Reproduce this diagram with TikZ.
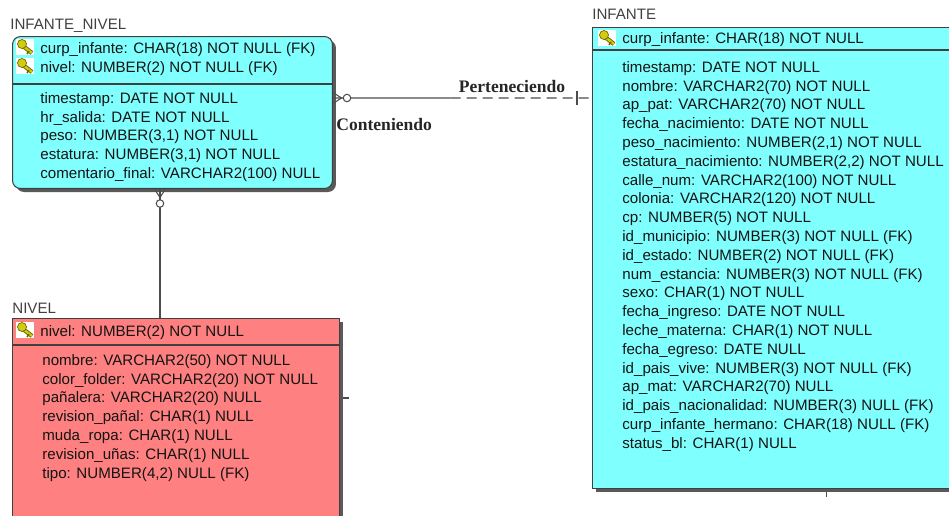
\documentclass[tikz,border=0pt]{standalone}
\usepackage{fontspec}
\setmainfont{Liberation Sans}
\newfontfamily\relfont{Liberation Serif}
\usetikzlibrary{shadows,calc}
\definecolor{entcyan}{HTML}{80FFFF}
\definecolor{entred}{HTML}{FF8080}
\definecolor{keygold}{HTML}{D2CC10}
\definecolor{keyedge}{HTML}{6E6A00}
\definecolor{txtgray}{HTML}{141414}

\tikzset{
  entity/.style={draw=black!75, line width=0.6pt, anchor=north west, inner sep=0pt,
    drop shadow={shadow xshift=0.07cm, shadow yshift=-0.07cm, fill=black!65, opacity=1}},
  attr/.style={anchor=north west, align=left, inner sep=0pt, text=txtgray,
    font=\fontsize{8.6}{10.7}\selectfont},
  title/.style={anchor=west, inner sep=0pt, text=black!75, font=\fontsize{8.6}{10}\selectfont},
  rellabel/.style={inner sep=0pt, text=black!85, font=\relfont\bfseries\fontsize{10}{12}\selectfont},
  rel/.style={draw=black!70, line width=0.6pt},
  keyicon/.pic={
    \fill[white] (-9,-8) rectangle (9,8);
    \draw[keyedge, line width=2.4pt] (-2,-1) -- (7,6);
    \draw[keygold, line width=1.3pt] (-2,-1) -- (7,6);
    \draw[keyedge, line width=0.9pt] (4,4) -- (2,7);
    \draw[keyedge, fill=keygold, line width=0.4pt] (-3,-3) circle (4.5);
  }
}

\begin{document}
\begin{tikzpicture}[x=0.02cm, y=-0.02cm]
\useasboundingbox (0,0) rectangle (949,515);

% INFANTE_NIVEL
\node[title] (tInfNiv) at (10,26) {INFANTE\_NIVEL};
\node[entity, fill=entcyan, rounded corners=0.16cm, minimum width=6.4cm, minimum height=3.04cm] (infniv) at (12,36) {};
\draw[black!75, line width=0.6pt] ([yshift=-0.96cm]infniv.north west) -- ([yshift=-0.96cm]infniv.north east);
\pic at (25,47) {keyicon};
\pic at (25,66) {keyicon};
\node[attr] (kInfNiv) at (40,42) {curp\_infante: CHAR(18) NOT NULL (FK)\\
nivel: NUMBER(2) NOT NULL (FK)};
\node[attr] (aInfNiv) at (40,92) {timestamp: DATE NOT NULL\\
hr\_salida: DATE NOT NULL\\
peso: NUMBER(3,1) NOT NULL\\
estatura: NUMBER(3,1) NOT NULL\\
comentario\_final: VARCHAR2(100) NULL};

% INFANTE
\node[title] (tInfante) at (592,14) {INFANTE};
\node[entity, fill=entcyan, minimum width=7.4cm, minimum height=9.22cm] (infante) at (592,27) {};
\draw[black!75, line width=0.6pt] ([yshift=-0.46cm]infante.north west) -- ([yshift=-0.46cm]infante.north east);
\pic at (607,38) {keyicon};
\node[attr] (kInfante) at (622,32) {curp\_infante: CHAR(18) NOT NULL};
\node[attr] (aInfante) at (622,61) {timestamp: DATE NOT NULL\\
nombre: VARCHAR2(70) NOT NULL\\
ap\_pat: VARCHAR2(70) NOT NULL\\
fecha\_nacimiento: DATE NOT NULL\\
peso\_nacimiento: NUMBER(2,1) NOT NULL\\
estatura\_nacimiento: NUMBER(2,2) NOT NULL\\
calle\_num: VARCHAR2(100) NOT NULL\\
colonia: VARCHAR2(120) NOT NULL\\
cp: NUMBER(5) NOT NULL\\
id\_municipio: NUMBER(3) NOT NULL (FK)\\
id\_estado: NUMBER(2) NOT NULL (FK)\\
num\_estancia: NUMBER(3) NOT NULL (FK)\\
sexo: CHAR(1) NOT NULL\\
fecha\_ingreso: DATE NOT NULL\\
leche\_materna: CHAR(1) NOT NULL\\
fecha\_egreso: DATE NULL\\
id\_pais\_vive: NUMBER(3) NOT NULL (FK)\\
ap\_mat: VARCHAR2(70) NULL\\
id\_pais\_nacionalidad: NUMBER(3) NULL (FK)\\
curp\_infante\_hermano: CHAR(18) NULL (FK)\\
status\_bl: CHAR(1) NULL};

% NIVEL
\node[title] (tNivel) at (12,308) {NIVEL};
\node[entity, fill=entred, minimum width=6.54cm, minimum height=4.3cm] (nivel) at (12,318) {};
\draw[black!75, line width=0.6pt] ([yshift=-0.54cm]nivel.north west) -- ([yshift=-0.54cm]nivel.north east);
\pic at (25,330) {keyicon};
\node[attr] (kNivel) at (40,325) {nivel: NUMBER(2) NOT NULL};
\node[attr] (aNivel) at (42,354) {nombre: VARCHAR2(50) NOT NULL\\
color\_folder: VARCHAR2(20) NOT NULL\\
pañalera: VARCHAR2(20) NULL\\
revision\_pañal: CHAR(1) NULL\\
muda\_ropa: CHAR(1) NULL\\
revision\_uñas: CHAR(1) NULL\\
tipo: NUMBER(4,2) NULL (FK)};

% INFANTE_NIVEL -- INFANTE
\path ([yshift=-1.24cm]infniv.north east) coordinate (cA) (cA -| infante.west) coordinate (cB);
\coordinate (cM) at ($(cA)!0.454!(cB)$);
\draw[rel] (cA) -- (cM);
\draw[rel, dash pattern=on 0.2cm off 0.12cm] (cM) -- (cB);
\draw[rel] ([yshift=0.11cm]cA) -- ([xshift=0.17cm]cA) -- ([yshift=-0.11cm]cA);
\draw[rel, fill=white] ([xshift=0.28cm]cA) circle (0.075cm);
\draw[rel] ([xshift=-0.3cm, yshift=0.14cm]cB) -- ([xshift=-0.3cm, yshift=-0.14cm]cB);
\node[rellabel] (lPert) at (512,86) {Perteneciendo};
\node[rellabel, anchor=west] (lCont) at (336,124) {Conteniendo};

% INFANTE_NIVEL -- NIVEL
\path ([xshift=2.96cm]infniv.south west) coordinate (cC) (cC |- nivel.north) coordinate (cD);
\draw[rel] (cC) -- (cD);
\draw[rel] ([xshift=-0.11cm]cC) -- ([yshift=-0.17cm]cC) -- ([xshift=0.11cm]cC);
\draw[rel, fill=white] ([yshift=-0.29cm]cC) circle (0.075cm);

% stubs to entities outside the view
\path ([yshift=-1.6cm]nivel.north east) coordinate (cE);
\draw[rel] ([xshift=0.06cm]cE) -- ([xshift=0.18cm]cE);
\path ([xshift=4.7cm]infante.south west) coordinate (cF);
\draw[rel] ([yshift=-0.06cm]cF) -- ([yshift=-0.16cm]cF);
\end{tikzpicture}
\end{document}
